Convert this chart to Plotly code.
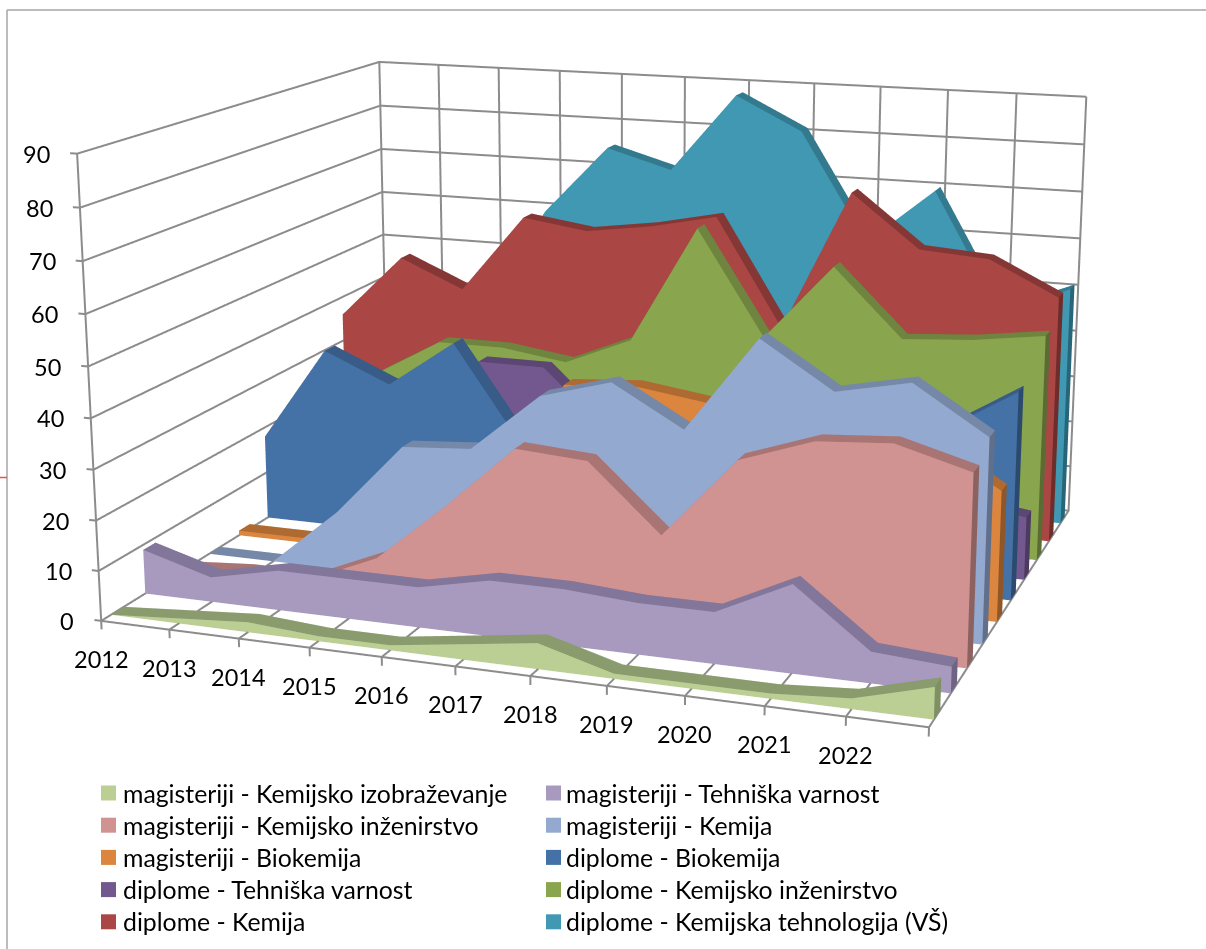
import plotly.graph_objects as go

years = ["2012", "2013", "2014", "2015", "2016", "2017", "2018", "2019", "2020", "2021", "2022", ""]
z_ticks = [0, 10, 20, 30, 40, 50, 60, 70, 80, 90]

names = ["magisteriji - Kemijsko izobraževanje", "magisteriji - Tehniška varnost",
         "magisteriji - Kemijsko inženirstvo", "magisteriji - Kemija",
         "magisteriji - Biokemija", "diplome - Biokemija",
         "diplome - Tehniška varnost", "diplome - Kemijsko inženirstvo",
         "diplome - Kemija", "diplome - Kemijska tehnologija (VŠ)"]

s_izob = [0, 1, 2, 1, 1, 3, 5, 1, 1, 1, 2, 6]
s_tvar = [9, 5, 8, 8, 8, 11, 11, 10, 10, 17, 6, 5]
s_kinz = [1, 2, 2, 8, 20, 33, 32, 19, 35, 40, 41, 37]
s_kem = [0, 0, 12, 27, 28, 40, 44, 36, 55, 46, 49, 40]
s_bio = [1, 1, 2, 8, 15, 39, 40, 38, 33, 35, 35, 26]
d_bio = [18, 38, 32, 42, 22, 20, 22, 25, 28, 30, 33, 42]
d_tvar = [5, 10, 20, 35, 35, 22, 20, 15, 15, 15, 15, 13]
d_kinz = [15, 27, 35, 35, 33, 39, 64, 42, 58, 44, 45, 47]
d_kem = [36, 50, 44, 61, 59, 61, 64, 41, 71, 60, 59, 52]
d_kteh = [30, 35, 38, 60, 75, 71, 88, 81, 58, 70, 45, 51]
series = [s_izob, s_tvar, s_kinz, s_kem, s_bio, d_bio, d_tvar, d_kinz, d_kem, d_kteh]

front_col = ["#BBCF95", "#A89ABE", "#D19392", "#93A9CF", "#DC853E", "#4472A7", "#73588F", "#89A54E", "#AA4643", "#4098B2"]
top_col = ["#8A9C6E", "#82769A", "#A97574", "#7688A8", "#AE6A31", "#385C87", "#5C4673", "#6E843F", "#853735", "#337A8E"]
side_col = ["#7F9064", "#6F6483", "#8C6261", "#616F8B", "#8F5728", "#2C4A6E", "#4C3A60", "#5A6C33", "#6D2D2B", "#286578"]
grid = "#8C8C8C"

# the chart's narrow perspective needs a scene bigger than the window, the page is framed at the end
W, H, OFF = 1253, 2200, 733

def xp(v):
    return v / W

def yp(v):
    return 1 - (v + OFF) / H

fig = go.Figure()
for i, vals in enumerate(series):
    yf, yb = i + 0.28, i + 0.65
    px, py, pz = [], [], []
    for k in range(12):
        px += [k] * 4
        py += [yf, yf, yb, yb]
        pz += [0, vals[k], vals[k], 0]
    a, b, c, cols = [], [], [], []
    def quad(q, col):
        a.extend([q[0], q[0]])
        b.extend([q[1], q[2]])
        c.extend([q[2], q[3]])
        cols.extend([col, col])
    for k in range(11):
        n, m = 4 * k, 4 * (k + 1)
        quad([n, m, m + 1, n + 1], front_col[i])
        quad([n + 1, m + 1, m + 2, n + 2], top_col[i])
    quad([44, 45, 46, 47], side_col[i])
    fig.add_trace(go.Mesh3d(x=px, y=py, z=pz, i=a, j=b, k=c, facecolor=cols, flatshading=True,
                            lighting=dict(ambient=1, diffuse=0, specular=0, fresnel=0, roughness=1),
                            hoverinfo="skip", showlegend=False))

# walls, floor grid and tick marks
gx, gy, gz = [], [], []
for k in range(12):
    gx += [k, k, k, None, k, k, None]
    gy += [0, 10, 10, None, 0, 0, None]
    gz += [0, 0, 90, None, 0, -1.7, None]
for z in z_ticks:
    gx += [-0.1, 0, 0, 11, None]
    gy += [0, 0, 10, 10, None]
    gz += [z, z, z, z, None]
gx += [11, 11, None, 0, 11, None, 0, 0, None]
gy += [0, 10, None, 0, 0, None, 0, 0, None]
gz += [0, 0, None, 0, 0, None, 0, 90, None]
fig.add_trace(go.Scatter3d(x=gx, y=gy, z=gz, mode="lines", line=dict(color=grid, width=4), hoverinfo="skip", showlegend=False))

shapes = [dict(type="line", xref="paper", yref="paper", x0=xp(7), x1=xp(1206), y0=yp(10), y1=yp(10), line=dict(color="#A6A6A6", width=1.5)),
          dict(type="line", xref="paper", yref="paper", x0=xp(7), x1=xp(7), y0=yp(949), y1=yp(10), line=dict(color="#A6A6A6", width=1.5)),
          dict(type="line", xref="paper", yref="paper", x0=0, x1=xp(7), y0=yp(477.5), y1=yp(477.5), line=dict(color="#E8534F", width=1.5))]
annotations = []
# legend
for i, name in enumerate(names):
    col, row = i % 2, i // 2
    yc = 793 + row * 32.2
    x0 = 101 + col * 445
    shapes.append(dict(type="rect", xref="paper", yref="paper", x0=xp(x0), x1=xp(x0 + 15),
                       y0=yp(yc + 7.5), y1=yp(yc - 7.5), fillcolor=front_col[i], line=dict(width=0)))
    annotations.append(dict(text=name, x=xp(121 + col * 443), y=yp(yc), xref="paper", yref="paper",
                            xanchor="left", yanchor="middle", showarrow=False, font=dict(family="Lato", size=24.8, color="#000000")))

tick_font = dict(family="Lato", size=23.5, color="#000000")
scene_labels = []
for k, label in enumerate(years):
    if label:
        scene_labels.append(dict(x=k, y=0, z=0, text=label, showarrow=False, xanchor="center", yanchor="middle",
                                 yshift=-38, font=tick_font))
for z in z_ticks:
    scene_labels.append(dict(x=0, y=0, z=z, text=str(z), showarrow=False, xanchor="right", yanchor="middle",
                             xshift=-25, font=tick_font))

# ranges padded a little so the tick marks and edges are not clipped, aspect and camera follow the padding
plain = dict(showgrid=False, showline=False, zeroline=False, showbackground=False, showticklabels=False,
             title=dict(text=""), showspikes=False, ticks="")
fig.update_layout(
    width=W, height=H, margin=dict(l=0, r=0, t=0, b=0), autosize=False,
    paper_bgcolor="white", font=dict(family="Lato", size=22, color="#000000"), showlegend=False,
    scene=dict(
        domain=dict(x=[0, 1], y=[0, 1]),
        aspectmode="manual", aspectratio=dict(x=1.012727, y=0.82517, z=0.57391),
        camera=dict(eye=dict(x=1.081545, y=-3.003, z=0.789348), center=dict(x=0.050545, y=-0.088, z=0.004348), up=dict(x=0, y=0, z=1)),
        xaxis=dict(range=[-0.12, 11.02], tickvals=list(range(12)), **plain),
        yaxis=dict(range=[-0.05, 10.05], **plain),
        zaxis=dict(range=[-1.9, 90.5], tickvals=z_ticks, **plain),
        annotations=scene_labels,
    ),
    shapes=shapes, annotations=annotations,
)
frame = """
var gd = document.getElementById('{plot_id}');
document.documentElement.style.overflow = 'hidden';
document.body.style.overflow = 'hidden';
document.body.style.margin = '0';
gd.style.position = 'fixed';
gd.style.left = '0';
gd.style.top = '-%dpx';
""" % OFF
fig.write_html("out.html", post_script=frame)
